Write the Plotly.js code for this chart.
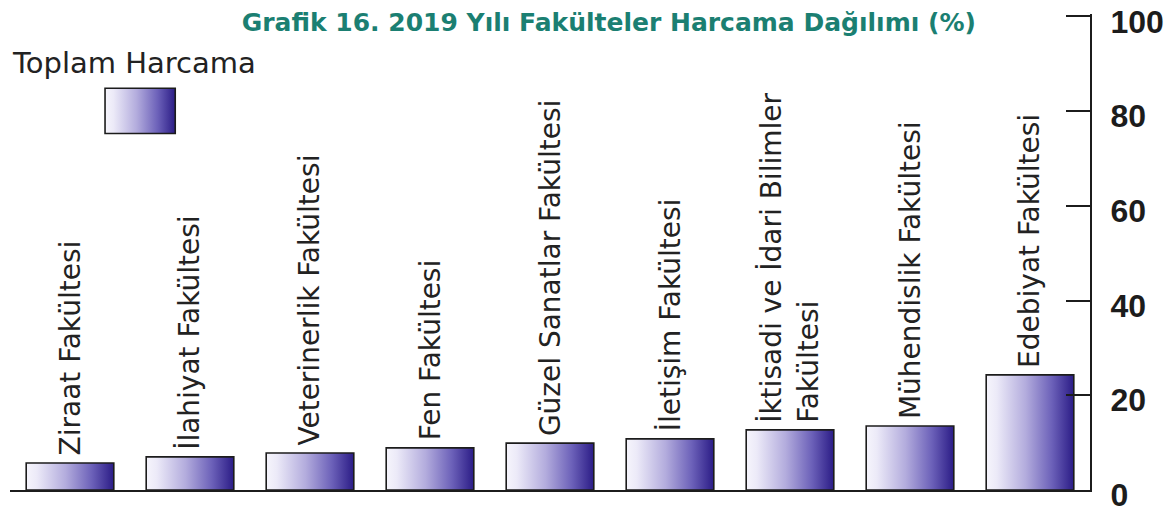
<!DOCTYPE html>
<html>
<head>
<meta charset="utf-8">
<script src="https://cdn.plot.ly/plotly-3.0.1.min.js"></script>
<style>
html,body{margin:0;padding:0;background:#fff;}
#chart{width:1173px;height:512px;}
</style>
</head>
<body>
<div id="chart"></div>
<script>
// ---- data ----
const faculties = [
  "Ziraat Fakültesi",
  "İlahiyat Fakültesi",
  "Veterinerlik Fakültesi",
  "Fen Fakültesi",
  "Güzel Sanatlar Fakültesi",
  "İletişim Fakültesi",
  "İktisadi ve İdari Bilimler<br>Fakültesi",
  "Mühendislik Fakültesi",
  "Edebiyat Fakültesi"
];
const spending = [5.7, 7.0, 7.8, 8.9, 9.9, 10.8, 12.7, 13.5, 24.3];
const yTicks = [0, 20, 40, 60, 80, 100];
const seriesName = "Toplam Harcama";
const chartTitle = "Grafik 16. 2019 Yılı Fakülteler Harcama Dağılımı (%)";

const labelFont = {family: "DejaVu Sans", size: 28, color: "#222"};

const labelAnnotations = faculties.map((f, i) => ({
  x: f, y: spending[i], xref: "x", yref: "y",
  text: f, textangle: -90, showarrow: false,
  xanchor: "center", yanchor: "bottom", align: "left",
  yshift: 5, font: labelFont
}));

const trace = {
  type: "bar",
  x: faculties,
  y: spending,
  name: seriesName,
  marker: {color: "#6a5fb8", line: {color: "#1c1c1c", width: 1.6}},
  hoverinfo: "x+y"
};

const layout = {
  width: 1173, height: 512,
  margin: {l: 10, r: 83, t: 14, b: 22},
  paper_bgcolor: "#ffffff", plot_bgcolor: "#ffffff",
  showlegend: false,
  bargap: 0.27,
  title: {
    text: chartTitle,
    font: {family: "DejaVu Sans", size: 25, color: "#1b7f72", weight: "bold"},
    x: 0.519, xanchor: "center", y: 0.957, yanchor: "middle"
  },
  xaxis: {
    type: "category", range: [-0.5, 8.5],
    showline: true, linecolor: "#1c1c1c", linewidth: 2,
    showticklabels: false, ticks: "", showgrid: false, zeroline: false, fixedrange: true
  },
  yaxis: {
    side: "right", range: [0, 100.5], tickvals: yTicks, ticktext: yTicks.map(String),
    ticks: "inside", ticklen: 24, tickwidth: 2, tickcolor: "#1c1c1c",
    showline: true, linecolor: "#1c1c1c", linewidth: 2,
    showgrid: false, zeroline: false,
    tickfont: {family: "Liberation Sans", size: 32, color: "#1c1c1c", weight: "bold"},
    ticklabelstandoff: 12, ticklabelshift: 5, ticklabeloverflow: "allow", fixedrange: true
  },
  annotations: labelAnnotations.concat([{
    xref: "paper", yref: "paper", x: 0.0, y: 0.897,
    xanchor: "left", yanchor: "middle", showarrow: false,
    text: seriesName, font: {family: "DejaVu Sans", size: 29, color: "#222"}
  }]),
  shapes: [{
    type: "rect", xref: "paper", yref: "paper",
    x0: 0.088, x1: 0.153, y0: 0.749, y1: 0.844,
    line: {color: "#1c1c1c", width: 1.6}, fillcolor: "#6a5fb8"
  }]
};

Plotly.newPlot("chart", [trace], layout, {displayModeBar: false}).then(gd => {
  const svgNS = "http://www.w3.org/2000/svg";
  const svg = gd.querySelector(".main-svg");
  let defs = svg.querySelector("defs");
  if (!defs) { defs = document.createElementNS(svgNS, "defs"); svg.insertBefore(defs, svg.firstChild); }
  const grad = document.createElementNS(svgNS, "linearGradient");
  grad.setAttribute("id", "barGrad");
  grad.setAttribute("x1", "0"); grad.setAttribute("y1", "0");
  grad.setAttribute("x2", "1"); grad.setAttribute("y2", "0");
  [["0", "#f6f5fc"], ["0.12", "#eceaf8"], ["0.45", "#b3acdd"], ["0.75", "#6c61b9"], ["1", "#2b1c86"]].forEach(([o, c]) => {
    const s = document.createElementNS(svgNS, "stop");
    s.setAttribute("offset", o); s.setAttribute("stop-color", c);
    grad.appendChild(s);
  });
  defs.appendChild(grad);
  gd.querySelectorAll(".bars .point path").forEach(p => p.style.setProperty("fill", "url(#barGrad)"));
  gd.querySelectorAll(".shapelayer path").forEach(p => p.style.setProperty("fill", "url(#barGrad)"));
});
</script>
</body>
</html>
